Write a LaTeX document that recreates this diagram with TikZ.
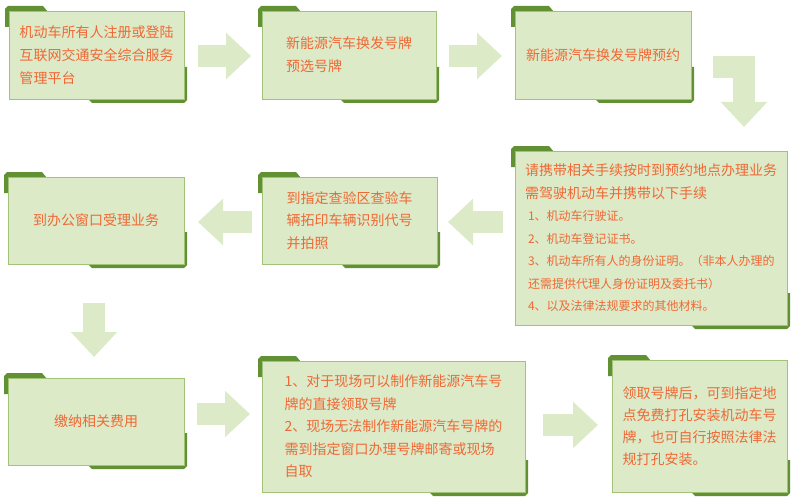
\documentclass[tikz,border=0pt]{standalone}
\usepackage{fontspec}
\setmainfont{Noto Sans CJK SC}
\usepackage{tikz}
\usetikzlibrary{arrows.meta, backgrounds, calc}
\definecolor{pale}{RGB}{220, 234, 200}
\definecolor{rim}{RGB}{160, 195, 120}
\definecolor{dark}{RGB}{98, 145, 52}
\definecolor{ink}{RGB}{240, 104, 52}
\newcommand{\cardfont}{\fontsize{14}{22.8}\selectfont}
\newcommand{\headfont}{\fontsize{14}{22.5}\selectfont}

\begin{document}
\begin{tikzpicture}[x=1pt, y=-1pt, thick,
  card/.style={draw=rim, line width=0.8pt, fill=pale, text=ink, align=left,
    inner sep=0pt, outer sep=0pt, font=\cardfont},
  bigarrow/.style={draw=pale, line width=22pt, line join=miter,
    -{Triangle[length=25pt, width=45pt]}}]

  \useasboundingbox (0, 0) rectangle (794, 500);

  % top row
  \node[card, minimum width=175, minimum height=88] (b1) at (96.5, 55)
    {机动车所有人注册或登陆\\互联网交通安全综合服务\\管理平台};
  \node[card, minimum width=174, minimum height=88] (b2) at (349, 55)
    {新能源汽车换发号牌\\预选号牌};
  \node[card, minimum width=176, minimum height=88] (b3) at (603, 55)
    {新能源汽车换发号牌预约};

  % middle row
  \node[card, minimum width=272, minimum height=174,
    font=\fontsize{12}{22.5}\selectfont] (b4) at (651, 238)
    {{\headfont 请携带相关手续按时到预约地点办理业务}\\
     {\headfont 需驾驶机动车并携带以下手续}\\
     \hspace{3pt}1、机动车行驶证。\\
     \hspace{3pt}2、机动车登记证书。\\
     \hspace{3pt}3、机动车所有人的身份证明。（非本人办理的\\
     \hspace{3pt}还需提供代理人身份证明及委托书）\\
     \hspace{3pt}4、以及法律法规要求的其他材料。};
  \node[card, minimum width=175, minimum height=87] (b6) at (349.5, 220.5)
    {到指定查验区查验车\\辆拓印车辆识别代号\\并拍照};
  \node[card, minimum width=176, minimum height=87] (b5) at (96, 220.5)
    {到办公窗口受理业务};

  % bottom row
  \node[card, minimum width=176, minimum height=87] (b7) at (96, 421.5)
    {缴纳相关费用};
  \node[card, minimum width=263, minimum height=131,
    font=\fontsize{14}{22.5}\selectfont] (b8) at (393.5, 426.5)
    {1、对于现场可以制作新能源汽车号\\牌的直接领取号牌\\
     2、现场无法制作新能源汽车号牌的\\需到指定窗口办理号牌邮寄或现场\\自取};
  \node[card, minimum width=175, minimum height=132,
    font=\fontsize{14}{22}\selectfont] (b9) at (699.5, 426)
    {领取号牌后，可到指定地\\点免费打孔安装机动车号\\牌，也可自行按照法律法\\规打孔安装。};

  % dark corner tabs behind the cards
  \begin{scope}[on background layer]
    \foreach \n in {b1, b2, b3, b4, b5, b6, b7, b8, b9} {
      \fill[dark] ($(\n.north west)+(-4, 16)$) -- ($(\n.north west)+(-4, -2)$)
        -- ($(\n.north west)+(-1, -5)$) -- ($(\n.north west)+(34, -5)$)
        -- ($(\n.north west)+(39, 1)$) -- ($(\n.north west)+(1, 1)$)
        -- ($(\n.north west)+(1, 16)$) -- cycle;
      \fill[dark] ($(\n.south east)+(3, -32)$) -- ($(\n.south east)+(3, 1)$)
        -- ($(\n.south east)+(0, 4)$) -- ($(\n.south east)+(-92, 4)$)
        -- ($(\n.south east)+(-97, -1)$) -- ($(\n.south east)+(-1, -1)$)
        -- ($(\n.south east)+(-1, -32)$) -- cycle;
    }
  \end{scope}

  \draw[bigarrow] ($(b1.east)+(14, 1)$) -- ($(b2.west)+(-11, 1)$);
  \draw[bigarrow] ($(b2.east)+(13, 1)$) -- ($(b3.west)+(-13, 1)$);
  \draw[bigarrow] ($(b3.east)+(22, 12.5)$) -| ($(b4.north east)+(-43, -24)$);
  \draw[bigarrow] ($(b4.west |- b6.east)+(-12, 1.5)$) -- ($(b6.east)+(11, 1.5)$);
  \draw[bigarrow] ($(b6.west)+(-10, 1.5)$) -- ($(b5.east)+(14, 1.5)$);
  \draw[bigarrow] ($(b5.south)+(-2, 39)$) -- ($(b7.north)+(-2, -21)$);
  \draw[bigarrow] ($(b7.east)+(13, -7.5)$) -- ($(b8.west)+(-12, -12.5)$);
  \draw[bigarrow] ($(b8.east)+(18, -1.5)$) -- ($(b9.west)+(-14, -1)$);

\end{tikzpicture}
\end{document}
